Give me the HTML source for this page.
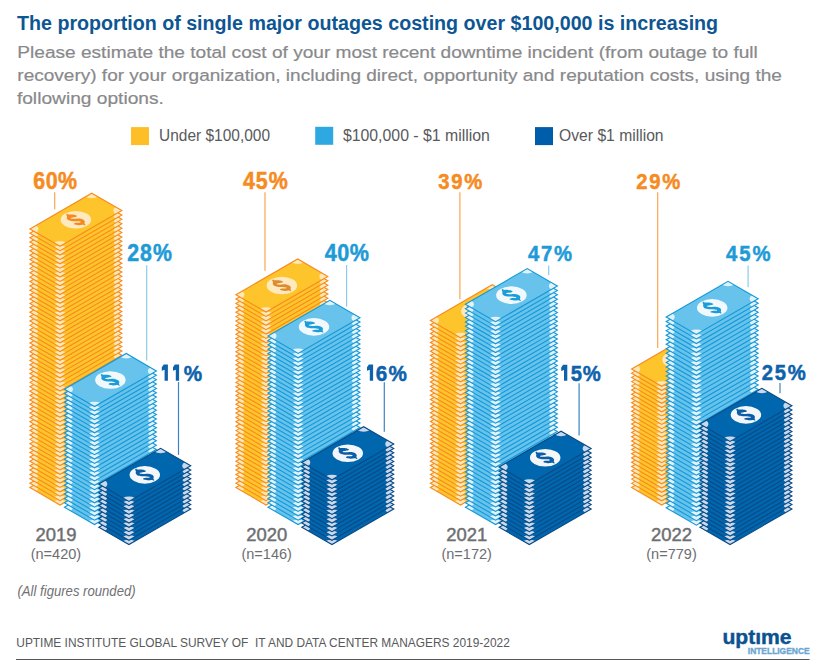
<!DOCTYPE html>
<html><head><meta charset="utf-8"><title>Outage cost chart</title>
<style>html,body{margin:0;padding:0;background:#fff;width:830px;height:668px;overflow:hidden}svg{display:block}text{font-family:"Liberation Sans",sans-serif}</style>
</head><body>
<svg width="830" height="668" viewBox="0 0 830 668"><defs><g id="bO"><rect x="0" y="0" width="71.4" height="34.8" fill="#FEC42C"/><g fill="#FFE8B8"><path d="M0,0 L7.0,0 A7.0,7.0 0 0 1 0,7.0 Z"/><path d="M71.4,0 L71.4,7.0 A7.0,7.0 0 0 1 64.4,0 Z"/><path d="M71.4,34.8 L64.4,34.8 A7.0,7.0 0 0 1 71.4,27.799999999999997 Z"/><path d="M0,34.8 L0,27.799999999999997 A7.0,7.0 0 0 1 7.0,34.8 Z"/></g><rect x="0" y="0" width="71.4" height="34.8" fill="none" stroke="#F88B1D" stroke-width="1.1" vector-effect="non-scaling-stroke" stroke-linejoin="miter"/></g><g id="bL"><rect x="0" y="0" width="71.4" height="34.8" fill="#67C3EC"/><g fill="#E2F2FB"><path d="M0,0 L7.0,0 A7.0,7.0 0 0 1 0,7.0 Z"/><path d="M71.4,0 L71.4,7.0 A7.0,7.0 0 0 1 64.4,0 Z"/><path d="M71.4,34.8 L64.4,34.8 A7.0,7.0 0 0 1 71.4,27.799999999999997 Z"/><path d="M0,34.8 L0,27.799999999999997 A7.0,7.0 0 0 1 7.0,34.8 Z"/></g><rect x="0" y="0" width="71.4" height="34.8" fill="none" stroke="#1398D8" stroke-width="1.1" vector-effect="non-scaling-stroke" stroke-linejoin="miter"/></g><g id="bD"><rect x="0" y="0" width="71.4" height="34.8" fill="#0066AD"/><g fill="#C9DAEC"><path d="M0,0 L7.0,0 A7.0,7.0 0 0 1 0,7.0 Z"/><path d="M71.4,0 L71.4,7.0 A7.0,7.0 0 0 1 64.4,0 Z"/><path d="M71.4,34.8 L64.4,34.8 A7.0,7.0 0 0 1 71.4,27.799999999999997 Z"/><path d="M0,34.8 L0,27.799999999999997 A7.0,7.0 0 0 1 7.0,34.8 Z"/></g><rect x="0" y="0" width="71.4" height="34.8" fill="none" stroke="#0B4A86" stroke-width="1.1" vector-effect="non-scaling-stroke" stroke-linejoin="miter"/></g></defs><rect width="830" height="668" fill="#FFFFFF"/><text x="17" y="29.7" font-family="Liberation Sans" font-weight="bold" font-style="normal" font-size="20" fill="#0D5693" textLength="701.1" lengthAdjust="spacingAndGlyphs" >The proportion of single major outages costing over $100,000 is increasing</text><text x="17.3" y="57.9" font-family="Liberation Sans" font-weight="normal" font-style="normal" font-size="17.4" fill="#88898B" textLength="740.5" lengthAdjust="spacingAndGlyphs" stroke="#88898B" stroke-width="0.2">Please estimate the total cost of your most recent downtime incident (from outage to full</text><text x="17.3" y="80.7" font-family="Liberation Sans" font-weight="normal" font-style="normal" font-size="17.4" fill="#88898B" textLength="764.6" lengthAdjust="spacingAndGlyphs" stroke="#88898B" stroke-width="0.2">recovery) for your organization, including direct, opportunity and reputation costs, using the</text><text x="16.9" y="103.5" font-family="Liberation Sans" font-weight="normal" font-style="normal" font-size="17.4" fill="#88898B" textLength="147.0" lengthAdjust="spacingAndGlyphs" stroke="#88898B" stroke-width="0.2">following options.</text><rect x="131" y="127.1" width="18" height="18" fill="#FDBE27"/><rect x="315.2" y="126.8" width="18" height="18" fill="#2EA8E0"/><rect x="535" y="127.1" width="18" height="18" fill="#005DAA"/><text x="159.1" y="140.8" font-family="Liberation Sans" font-weight="normal" font-style="normal" font-size="16.3" fill="#58595B" textLength="110.9" lengthAdjust="spacingAndGlyphs" >Under $100,000</text><text x="342.9" y="140.8" font-family="Liberation Sans" font-weight="normal" font-style="normal" font-size="16.3" fill="#58595B" textLength="147.0" lengthAdjust="spacingAndGlyphs" >$100,000 - $1 million</text><text x="559.1" y="140.8" font-family="Liberation Sans" font-weight="normal" font-style="normal" font-size="16.3" fill="#58595B" textLength="104.5" lengthAdjust="spacingAndGlyphs" >Over $1 million</text><use href="#bO" transform="matrix(0.8660,-0.5,0.8660,0.5,29.90,487.60)"/><use href="#bO" transform="matrix(0.8660,-0.5,0.8660,0.5,29.90,483.22)"/><use href="#bO" transform="matrix(0.8660,-0.5,0.8660,0.5,29.90,478.83)"/><use href="#bO" transform="matrix(0.8660,-0.5,0.8660,0.5,29.90,474.45)"/><use href="#bO" transform="matrix(0.8660,-0.5,0.8660,0.5,29.90,470.06)"/><use href="#bO" transform="matrix(0.8660,-0.5,0.8660,0.5,29.90,465.68)"/><use href="#bO" transform="matrix(0.8660,-0.5,0.8660,0.5,29.90,461.29)"/><use href="#bO" transform="matrix(0.8660,-0.5,0.8660,0.5,29.90,456.91)"/><use href="#bO" transform="matrix(0.8660,-0.5,0.8660,0.5,29.90,452.52)"/><use href="#bO" transform="matrix(0.8660,-0.5,0.8660,0.5,29.90,448.14)"/><use href="#bO" transform="matrix(0.8660,-0.5,0.8660,0.5,29.90,443.75)"/><use href="#bO" transform="matrix(0.8660,-0.5,0.8660,0.5,29.90,439.37)"/><use href="#bO" transform="matrix(0.8660,-0.5,0.8660,0.5,29.90,434.98)"/><use href="#bO" transform="matrix(0.8660,-0.5,0.8660,0.5,29.90,430.60)"/><use href="#bO" transform="matrix(0.8660,-0.5,0.8660,0.5,29.90,426.21)"/><use href="#bO" transform="matrix(0.8660,-0.5,0.8660,0.5,29.90,421.83)"/><use href="#bO" transform="matrix(0.8660,-0.5,0.8660,0.5,29.90,417.44)"/><use href="#bO" transform="matrix(0.8660,-0.5,0.8660,0.5,29.90,413.06)"/><use href="#bO" transform="matrix(0.8660,-0.5,0.8660,0.5,29.90,408.67)"/><use href="#bO" transform="matrix(0.8660,-0.5,0.8660,0.5,29.90,404.29)"/><use href="#bO" transform="matrix(0.8660,-0.5,0.8660,0.5,29.90,399.91)"/><use href="#bO" transform="matrix(0.8660,-0.5,0.8660,0.5,29.90,395.52)"/><use href="#bO" transform="matrix(0.8660,-0.5,0.8660,0.5,29.90,391.14)"/><use href="#bO" transform="matrix(0.8660,-0.5,0.8660,0.5,29.90,386.75)"/><use href="#bO" transform="matrix(0.8660,-0.5,0.8660,0.5,29.90,382.37)"/><use href="#bO" transform="matrix(0.8660,-0.5,0.8660,0.5,29.90,377.98)"/><use href="#bO" transform="matrix(0.8660,-0.5,0.8660,0.5,29.90,373.60)"/><use href="#bO" transform="matrix(0.8660,-0.5,0.8660,0.5,29.90,369.21)"/><use href="#bO" transform="matrix(0.8660,-0.5,0.8660,0.5,29.90,364.83)"/><use href="#bO" transform="matrix(0.8660,-0.5,0.8660,0.5,29.90,360.44)"/><use href="#bO" transform="matrix(0.8660,-0.5,0.8660,0.5,29.90,356.06)"/><use href="#bO" transform="matrix(0.8660,-0.5,0.8660,0.5,29.90,351.67)"/><use href="#bO" transform="matrix(0.8660,-0.5,0.8660,0.5,29.90,347.29)"/><use href="#bO" transform="matrix(0.8660,-0.5,0.8660,0.5,29.90,342.90)"/><use href="#bO" transform="matrix(0.8660,-0.5,0.8660,0.5,29.90,338.52)"/><use href="#bO" transform="matrix(0.8660,-0.5,0.8660,0.5,29.90,334.13)"/><use href="#bO" transform="matrix(0.8660,-0.5,0.8660,0.5,29.90,329.75)"/><use href="#bO" transform="matrix(0.8660,-0.5,0.8660,0.5,29.90,325.36)"/><use href="#bO" transform="matrix(0.8660,-0.5,0.8660,0.5,29.90,320.98)"/><use href="#bO" transform="matrix(0.8660,-0.5,0.8660,0.5,29.90,316.59)"/><use href="#bO" transform="matrix(0.8660,-0.5,0.8660,0.5,29.90,312.21)"/><use href="#bO" transform="matrix(0.8660,-0.5,0.8660,0.5,29.90,307.83)"/><use href="#bO" transform="matrix(0.8660,-0.5,0.8660,0.5,29.90,303.44)"/><use href="#bO" transform="matrix(0.8660,-0.5,0.8660,0.5,29.90,299.06)"/><use href="#bO" transform="matrix(0.8660,-0.5,0.8660,0.5,29.90,294.67)"/><use href="#bO" transform="matrix(0.8660,-0.5,0.8660,0.5,29.90,290.29)"/><use href="#bO" transform="matrix(0.8660,-0.5,0.8660,0.5,29.90,285.90)"/><use href="#bO" transform="matrix(0.8660,-0.5,0.8660,0.5,29.90,281.52)"/><use href="#bO" transform="matrix(0.8660,-0.5,0.8660,0.5,29.90,277.13)"/><use href="#bO" transform="matrix(0.8660,-0.5,0.8660,0.5,29.90,272.75)"/><use href="#bO" transform="matrix(0.8660,-0.5,0.8660,0.5,29.90,268.36)"/><use href="#bO" transform="matrix(0.8660,-0.5,0.8660,0.5,29.90,263.98)"/><use href="#bO" transform="matrix(0.8660,-0.5,0.8660,0.5,29.90,259.59)"/><use href="#bO" transform="matrix(0.8660,-0.5,0.8660,0.5,29.90,255.21)"/><use href="#bO" transform="matrix(0.8660,-0.5,0.8660,0.5,29.90,250.82)"/><use href="#bO" transform="matrix(0.8660,-0.5,0.8660,0.5,29.90,246.44)"/><use href="#bO" transform="matrix(0.8660,-0.5,0.8660,0.5,29.90,242.05)"/><use href="#bO" transform="matrix(0.8660,-0.5,0.8660,0.5,29.90,237.67)"/><use href="#bO" transform="matrix(0.8660,-0.5,0.8660,0.5,29.90,233.28)"/><use href="#bO" transform="matrix(0.8660,-0.5,0.8660,0.5,29.90,228.90)"/><g transform="matrix(0.8660,-0.5,0.8660,0.5,29.90,228.90)"><circle cx="35.7" cy="17.4" r="12.45" fill="#FFE9BE"/></g><path transform="translate(76.05,219.80)" fill="#F5881F" stroke="#F5881F" stroke-width="0.0" stroke-linejoin="round" d="M-9.86,-5.32 C-9.79,-5.45 -8.94,-6.11 -8.76,-6.11 C-8.58,-6.11 -8.08,-5.39 -7.66,-5.32 C-7.25,-5.26 -4.31,-5.36 -3.75,-5.32 C-3.18,-5.28 -1.30,-4.96 -0.92,-4.85 C-0.55,-4.75 0.66,-4.20 0.80,-4.07 C0.94,-3.94 0.93,-3.39 0.80,-3.29 C0.67,-3.18 -0.39,-2.89 -0.77,-2.82 C-1.15,-2.74 -3.38,-2.41 -3.75,-2.34 C-4.11,-2.28 -5.03,-2.10 -5.16,-2.03 C-5.29,-1.97 -5.37,-1.64 -5.31,-1.56 C-5.26,-1.48 -4.82,-1.14 -4.53,-1.09 C-4.24,-1.04 -2.40,-0.92 -1.87,-0.93 C-1.33,-0.95 1.32,-1.25 1.90,-1.25 C2.47,-1.25 4.56,-1.05 5.03,-0.93 C5.50,-0.82 7.23,-0.06 7.54,0.16 C7.85,0.39 8.71,1.44 8.79,1.73 C8.87,2.02 8.48,3.38 8.48,3.61 C8.48,3.85 8.70,4.42 8.79,4.55 C8.88,4.68 9.60,5.09 9.58,5.18 C9.55,5.27 8.70,5.66 8.48,5.65 C8.26,5.64 7.36,5.05 6.91,5.02 C6.47,5.00 3.73,5.35 3.15,5.34 C2.58,5.32 0.43,4.94 0.02,4.87 C-0.40,4.79 -1.71,4.50 -1.87,4.39 C-2.02,4.29 -2.02,3.73 -1.87,3.61 C-1.71,3.49 -0.43,3.05 0.02,2.98 C0.46,2.92 3.07,2.87 3.46,2.83 C3.86,2.79 4.64,2.59 4.72,2.51 C4.80,2.44 4.64,1.97 4.40,1.89 C4.17,1.81 2.50,1.61 1.90,1.57 C1.30,1.53 -2.15,1.47 -2.81,1.42 C-3.46,1.36 -5.50,1.06 -5.94,0.95 C-6.38,0.83 -7.86,0.22 -8.13,0.01 C-8.41,-0.20 -9.15,-1.26 -9.23,-1.56 C-9.31,-1.86 -9.05,-3.35 -9.08,-3.60 C-9.10,-3.85 -9.48,-4.40 -9.55,-4.54 C-9.61,-4.68 -9.92,-5.19 -9.86,-5.32Z"/><use href="#bL" transform="matrix(0.8660,-0.5,0.8660,0.5,64.40,507.20)"/><use href="#bL" transform="matrix(0.8660,-0.5,0.8660,0.5,64.40,502.83)"/><use href="#bL" transform="matrix(0.8660,-0.5,0.8660,0.5,64.40,498.46)"/><use href="#bL" transform="matrix(0.8660,-0.5,0.8660,0.5,64.40,494.09)"/><use href="#bL" transform="matrix(0.8660,-0.5,0.8660,0.5,64.40,489.72)"/><use href="#bL" transform="matrix(0.8660,-0.5,0.8660,0.5,64.40,485.35)"/><use href="#bL" transform="matrix(0.8660,-0.5,0.8660,0.5,64.40,480.98)"/><use href="#bL" transform="matrix(0.8660,-0.5,0.8660,0.5,64.40,476.61)"/><use href="#bL" transform="matrix(0.8660,-0.5,0.8660,0.5,64.40,472.24)"/><use href="#bL" transform="matrix(0.8660,-0.5,0.8660,0.5,64.40,467.87)"/><use href="#bL" transform="matrix(0.8660,-0.5,0.8660,0.5,64.40,463.50)"/><use href="#bL" transform="matrix(0.8660,-0.5,0.8660,0.5,64.40,459.13)"/><use href="#bL" transform="matrix(0.8660,-0.5,0.8660,0.5,64.40,454.76)"/><use href="#bL" transform="matrix(0.8660,-0.5,0.8660,0.5,64.40,450.39)"/><use href="#bL" transform="matrix(0.8660,-0.5,0.8660,0.5,64.40,446.01)"/><use href="#bL" transform="matrix(0.8660,-0.5,0.8660,0.5,64.40,441.64)"/><use href="#bL" transform="matrix(0.8660,-0.5,0.8660,0.5,64.40,437.27)"/><use href="#bL" transform="matrix(0.8660,-0.5,0.8660,0.5,64.40,432.90)"/><use href="#bL" transform="matrix(0.8660,-0.5,0.8660,0.5,64.40,428.53)"/><use href="#bL" transform="matrix(0.8660,-0.5,0.8660,0.5,64.40,424.16)"/><use href="#bL" transform="matrix(0.8660,-0.5,0.8660,0.5,64.40,419.79)"/><use href="#bL" transform="matrix(0.8660,-0.5,0.8660,0.5,64.40,415.42)"/><use href="#bL" transform="matrix(0.8660,-0.5,0.8660,0.5,64.40,411.05)"/><use href="#bL" transform="matrix(0.8660,-0.5,0.8660,0.5,64.40,406.68)"/><use href="#bL" transform="matrix(0.8660,-0.5,0.8660,0.5,64.40,402.31)"/><use href="#bL" transform="matrix(0.8660,-0.5,0.8660,0.5,64.40,397.94)"/><use href="#bL" transform="matrix(0.8660,-0.5,0.8660,0.5,64.40,393.57)"/><use href="#bL" transform="matrix(0.8660,-0.5,0.8660,0.5,64.40,389.20)"/><g transform="matrix(0.8660,-0.5,0.8660,0.5,64.40,389.20)"><circle cx="35.7" cy="17.4" r="12.45" fill="#F2F9FD"/></g><path transform="translate(110.55,380.10)" fill="#1B9DD9" stroke="#1B9DD9" stroke-width="0.0" stroke-linejoin="round" d="M-9.86,-5.32 C-9.79,-5.45 -8.94,-6.11 -8.76,-6.11 C-8.58,-6.11 -8.08,-5.39 -7.66,-5.32 C-7.25,-5.26 -4.31,-5.36 -3.75,-5.32 C-3.18,-5.28 -1.30,-4.96 -0.92,-4.85 C-0.55,-4.75 0.66,-4.20 0.80,-4.07 C0.94,-3.94 0.93,-3.39 0.80,-3.29 C0.67,-3.18 -0.39,-2.89 -0.77,-2.82 C-1.15,-2.74 -3.38,-2.41 -3.75,-2.34 C-4.11,-2.28 -5.03,-2.10 -5.16,-2.03 C-5.29,-1.97 -5.37,-1.64 -5.31,-1.56 C-5.26,-1.48 -4.82,-1.14 -4.53,-1.09 C-4.24,-1.04 -2.40,-0.92 -1.87,-0.93 C-1.33,-0.95 1.32,-1.25 1.90,-1.25 C2.47,-1.25 4.56,-1.05 5.03,-0.93 C5.50,-0.82 7.23,-0.06 7.54,0.16 C7.85,0.39 8.71,1.44 8.79,1.73 C8.87,2.02 8.48,3.38 8.48,3.61 C8.48,3.85 8.70,4.42 8.79,4.55 C8.88,4.68 9.60,5.09 9.58,5.18 C9.55,5.27 8.70,5.66 8.48,5.65 C8.26,5.64 7.36,5.05 6.91,5.02 C6.47,5.00 3.73,5.35 3.15,5.34 C2.58,5.32 0.43,4.94 0.02,4.87 C-0.40,4.79 -1.71,4.50 -1.87,4.39 C-2.02,4.29 -2.02,3.73 -1.87,3.61 C-1.71,3.49 -0.43,3.05 0.02,2.98 C0.46,2.92 3.07,2.87 3.46,2.83 C3.86,2.79 4.64,2.59 4.72,2.51 C4.80,2.44 4.64,1.97 4.40,1.89 C4.17,1.81 2.50,1.61 1.90,1.57 C1.30,1.53 -2.15,1.47 -2.81,1.42 C-3.46,1.36 -5.50,1.06 -5.94,0.95 C-6.38,0.83 -7.86,0.22 -8.13,0.01 C-8.41,-0.20 -9.15,-1.26 -9.23,-1.56 C-9.31,-1.86 -9.05,-3.35 -9.08,-3.60 C-9.10,-3.85 -9.48,-4.40 -9.55,-4.54 C-9.61,-4.68 -9.92,-5.19 -9.86,-5.32Z"/><use href="#bD" transform="matrix(0.8660,-0.5,0.8660,0.5,98.80,527.20)"/><use href="#bD" transform="matrix(0.8660,-0.5,0.8660,0.5,98.80,522.88)"/><use href="#bD" transform="matrix(0.8660,-0.5,0.8660,0.5,98.80,518.56)"/><use href="#bD" transform="matrix(0.8660,-0.5,0.8660,0.5,98.80,514.24)"/><use href="#bD" transform="matrix(0.8660,-0.5,0.8660,0.5,98.80,509.92)"/><use href="#bD" transform="matrix(0.8660,-0.5,0.8660,0.5,98.80,505.60)"/><use href="#bD" transform="matrix(0.8660,-0.5,0.8660,0.5,98.80,501.28)"/><use href="#bD" transform="matrix(0.8660,-0.5,0.8660,0.5,98.80,496.96)"/><use href="#bD" transform="matrix(0.8660,-0.5,0.8660,0.5,98.80,492.64)"/><use href="#bD" transform="matrix(0.8660,-0.5,0.8660,0.5,98.80,488.32)"/><use href="#bD" transform="matrix(0.8660,-0.5,0.8660,0.5,98.80,484.00)"/><g transform="matrix(0.8660,-0.5,0.8660,0.5,98.80,484.00)"><circle cx="35.7" cy="17.4" r="12.45" fill="#F3F6FA"/></g><path transform="translate(144.95,474.90)" fill="#0B5EA6" stroke="#0B5EA6" stroke-width="0.0" stroke-linejoin="round" d="M-9.86,-5.32 C-9.79,-5.45 -8.94,-6.11 -8.76,-6.11 C-8.58,-6.11 -8.08,-5.39 -7.66,-5.32 C-7.25,-5.26 -4.31,-5.36 -3.75,-5.32 C-3.18,-5.28 -1.30,-4.96 -0.92,-4.85 C-0.55,-4.75 0.66,-4.20 0.80,-4.07 C0.94,-3.94 0.93,-3.39 0.80,-3.29 C0.67,-3.18 -0.39,-2.89 -0.77,-2.82 C-1.15,-2.74 -3.38,-2.41 -3.75,-2.34 C-4.11,-2.28 -5.03,-2.10 -5.16,-2.03 C-5.29,-1.97 -5.37,-1.64 -5.31,-1.56 C-5.26,-1.48 -4.82,-1.14 -4.53,-1.09 C-4.24,-1.04 -2.40,-0.92 -1.87,-0.93 C-1.33,-0.95 1.32,-1.25 1.90,-1.25 C2.47,-1.25 4.56,-1.05 5.03,-0.93 C5.50,-0.82 7.23,-0.06 7.54,0.16 C7.85,0.39 8.71,1.44 8.79,1.73 C8.87,2.02 8.48,3.38 8.48,3.61 C8.48,3.85 8.70,4.42 8.79,4.55 C8.88,4.68 9.60,5.09 9.58,5.18 C9.55,5.27 8.70,5.66 8.48,5.65 C8.26,5.64 7.36,5.05 6.91,5.02 C6.47,5.00 3.73,5.35 3.15,5.34 C2.58,5.32 0.43,4.94 0.02,4.87 C-0.40,4.79 -1.71,4.50 -1.87,4.39 C-2.02,4.29 -2.02,3.73 -1.87,3.61 C-1.71,3.49 -0.43,3.05 0.02,2.98 C0.46,2.92 3.07,2.87 3.46,2.83 C3.86,2.79 4.64,2.59 4.72,2.51 C4.80,2.44 4.64,1.97 4.40,1.89 C4.17,1.81 2.50,1.61 1.90,1.57 C1.30,1.53 -2.15,1.47 -2.81,1.42 C-3.46,1.36 -5.50,1.06 -5.94,0.95 C-6.38,0.83 -7.86,0.22 -8.13,0.01 C-8.41,-0.20 -9.15,-1.26 -9.23,-1.56 C-9.31,-1.86 -9.05,-3.35 -9.08,-3.60 C-9.10,-3.85 -9.48,-4.40 -9.55,-4.54 C-9.61,-4.68 -9.92,-5.19 -9.86,-5.32Z"/><use href="#bO" transform="matrix(0.8660,-0.5,0.8660,0.5,235.90,487.60)"/><use href="#bO" transform="matrix(0.8660,-0.5,0.8660,0.5,235.90,483.22)"/><use href="#bO" transform="matrix(0.8660,-0.5,0.8660,0.5,235.90,478.83)"/><use href="#bO" transform="matrix(0.8660,-0.5,0.8660,0.5,235.90,474.45)"/><use href="#bO" transform="matrix(0.8660,-0.5,0.8660,0.5,235.90,470.06)"/><use href="#bO" transform="matrix(0.8660,-0.5,0.8660,0.5,235.90,465.68)"/><use href="#bO" transform="matrix(0.8660,-0.5,0.8660,0.5,235.90,461.30)"/><use href="#bO" transform="matrix(0.8660,-0.5,0.8660,0.5,235.90,456.91)"/><use href="#bO" transform="matrix(0.8660,-0.5,0.8660,0.5,235.90,452.53)"/><use href="#bO" transform="matrix(0.8660,-0.5,0.8660,0.5,235.90,448.14)"/><use href="#bO" transform="matrix(0.8660,-0.5,0.8660,0.5,235.90,443.76)"/><use href="#bO" transform="matrix(0.8660,-0.5,0.8660,0.5,235.90,439.38)"/><use href="#bO" transform="matrix(0.8660,-0.5,0.8660,0.5,235.90,434.99)"/><use href="#bO" transform="matrix(0.8660,-0.5,0.8660,0.5,235.90,430.61)"/><use href="#bO" transform="matrix(0.8660,-0.5,0.8660,0.5,235.90,426.22)"/><use href="#bO" transform="matrix(0.8660,-0.5,0.8660,0.5,235.90,421.84)"/><use href="#bO" transform="matrix(0.8660,-0.5,0.8660,0.5,235.90,417.45)"/><use href="#bO" transform="matrix(0.8660,-0.5,0.8660,0.5,235.90,413.07)"/><use href="#bO" transform="matrix(0.8660,-0.5,0.8660,0.5,235.90,408.69)"/><use href="#bO" transform="matrix(0.8660,-0.5,0.8660,0.5,235.90,404.30)"/><use href="#bO" transform="matrix(0.8660,-0.5,0.8660,0.5,235.90,399.92)"/><use href="#bO" transform="matrix(0.8660,-0.5,0.8660,0.5,235.90,395.53)"/><use href="#bO" transform="matrix(0.8660,-0.5,0.8660,0.5,235.90,391.15)"/><use href="#bO" transform="matrix(0.8660,-0.5,0.8660,0.5,235.90,386.77)"/><use href="#bO" transform="matrix(0.8660,-0.5,0.8660,0.5,235.90,382.38)"/><use href="#bO" transform="matrix(0.8660,-0.5,0.8660,0.5,235.90,378.00)"/><use href="#bO" transform="matrix(0.8660,-0.5,0.8660,0.5,235.90,373.61)"/><use href="#bO" transform="matrix(0.8660,-0.5,0.8660,0.5,235.90,369.23)"/><use href="#bO" transform="matrix(0.8660,-0.5,0.8660,0.5,235.90,364.85)"/><use href="#bO" transform="matrix(0.8660,-0.5,0.8660,0.5,235.90,360.46)"/><use href="#bO" transform="matrix(0.8660,-0.5,0.8660,0.5,235.90,356.08)"/><use href="#bO" transform="matrix(0.8660,-0.5,0.8660,0.5,235.90,351.69)"/><use href="#bO" transform="matrix(0.8660,-0.5,0.8660,0.5,235.90,347.31)"/><use href="#bO" transform="matrix(0.8660,-0.5,0.8660,0.5,235.90,342.93)"/><use href="#bO" transform="matrix(0.8660,-0.5,0.8660,0.5,235.90,338.54)"/><use href="#bO" transform="matrix(0.8660,-0.5,0.8660,0.5,235.90,334.16)"/><use href="#bO" transform="matrix(0.8660,-0.5,0.8660,0.5,235.90,329.77)"/><use href="#bO" transform="matrix(0.8660,-0.5,0.8660,0.5,235.90,325.39)"/><use href="#bO" transform="matrix(0.8660,-0.5,0.8660,0.5,235.90,321.00)"/><use href="#bO" transform="matrix(0.8660,-0.5,0.8660,0.5,235.90,316.62)"/><use href="#bO" transform="matrix(0.8660,-0.5,0.8660,0.5,235.90,312.24)"/><use href="#bO" transform="matrix(0.8660,-0.5,0.8660,0.5,235.90,307.85)"/><use href="#bO" transform="matrix(0.8660,-0.5,0.8660,0.5,235.90,303.47)"/><use href="#bO" transform="matrix(0.8660,-0.5,0.8660,0.5,235.90,299.08)"/><use href="#bO" transform="matrix(0.8660,-0.5,0.8660,0.5,235.90,294.70)"/><g transform="matrix(0.8660,-0.5,0.8660,0.5,235.90,294.70)"><circle cx="35.7" cy="17.4" r="12.45" fill="#FFE9BE"/></g><path transform="translate(282.05,285.60)" fill="#DE8B2E" stroke="#DE8B2E" stroke-width="0.0" stroke-linejoin="round" d="M-9.86,-5.32 C-9.79,-5.45 -8.94,-6.11 -8.76,-6.11 C-8.58,-6.11 -8.08,-5.39 -7.66,-5.32 C-7.25,-5.26 -4.31,-5.36 -3.75,-5.32 C-3.18,-5.28 -1.30,-4.96 -0.92,-4.85 C-0.55,-4.75 0.66,-4.20 0.80,-4.07 C0.94,-3.94 0.93,-3.39 0.80,-3.29 C0.67,-3.18 -0.39,-2.89 -0.77,-2.82 C-1.15,-2.74 -3.38,-2.41 -3.75,-2.34 C-4.11,-2.28 -5.03,-2.10 -5.16,-2.03 C-5.29,-1.97 -5.37,-1.64 -5.31,-1.56 C-5.26,-1.48 -4.82,-1.14 -4.53,-1.09 C-4.24,-1.04 -2.40,-0.92 -1.87,-0.93 C-1.33,-0.95 1.32,-1.25 1.90,-1.25 C2.47,-1.25 4.56,-1.05 5.03,-0.93 C5.50,-0.82 7.23,-0.06 7.54,0.16 C7.85,0.39 8.71,1.44 8.79,1.73 C8.87,2.02 8.48,3.38 8.48,3.61 C8.48,3.85 8.70,4.42 8.79,4.55 C8.88,4.68 9.60,5.09 9.58,5.18 C9.55,5.27 8.70,5.66 8.48,5.65 C8.26,5.64 7.36,5.05 6.91,5.02 C6.47,5.00 3.73,5.35 3.15,5.34 C2.58,5.32 0.43,4.94 0.02,4.87 C-0.40,4.79 -1.71,4.50 -1.87,4.39 C-2.02,4.29 -2.02,3.73 -1.87,3.61 C-1.71,3.49 -0.43,3.05 0.02,2.98 C0.46,2.92 3.07,2.87 3.46,2.83 C3.86,2.79 4.64,2.59 4.72,2.51 C4.80,2.44 4.64,1.97 4.40,1.89 C4.17,1.81 2.50,1.61 1.90,1.57 C1.30,1.53 -2.15,1.47 -2.81,1.42 C-3.46,1.36 -5.50,1.06 -5.94,0.95 C-6.38,0.83 -7.86,0.22 -8.13,0.01 C-8.41,-0.20 -9.15,-1.26 -9.23,-1.56 C-9.31,-1.86 -9.05,-3.35 -9.08,-3.60 C-9.10,-3.85 -9.48,-4.40 -9.55,-4.54 C-9.61,-4.68 -9.92,-5.19 -9.86,-5.32Z"/><use href="#bL" transform="matrix(0.8660,-0.5,0.8660,0.5,268.00,507.20)"/><use href="#bL" transform="matrix(0.8660,-0.5,0.8660,0.5,268.00,502.81)"/><use href="#bL" transform="matrix(0.8660,-0.5,0.8660,0.5,268.00,498.42)"/><use href="#bL" transform="matrix(0.8660,-0.5,0.8660,0.5,268.00,494.03)"/><use href="#bL" transform="matrix(0.8660,-0.5,0.8660,0.5,268.00,489.64)"/><use href="#bL" transform="matrix(0.8660,-0.5,0.8660,0.5,268.00,485.25)"/><use href="#bL" transform="matrix(0.8660,-0.5,0.8660,0.5,268.00,480.86)"/><use href="#bL" transform="matrix(0.8660,-0.5,0.8660,0.5,268.00,476.47)"/><use href="#bL" transform="matrix(0.8660,-0.5,0.8660,0.5,268.00,472.08)"/><use href="#bL" transform="matrix(0.8660,-0.5,0.8660,0.5,268.00,467.69)"/><use href="#bL" transform="matrix(0.8660,-0.5,0.8660,0.5,268.00,463.30)"/><use href="#bL" transform="matrix(0.8660,-0.5,0.8660,0.5,268.00,458.91)"/><use href="#bL" transform="matrix(0.8660,-0.5,0.8660,0.5,268.00,454.52)"/><use href="#bL" transform="matrix(0.8660,-0.5,0.8660,0.5,268.00,450.13)"/><use href="#bL" transform="matrix(0.8660,-0.5,0.8660,0.5,268.00,445.74)"/><use href="#bL" transform="matrix(0.8660,-0.5,0.8660,0.5,268.00,441.35)"/><use href="#bL" transform="matrix(0.8660,-0.5,0.8660,0.5,268.00,436.96)"/><use href="#bL" transform="matrix(0.8660,-0.5,0.8660,0.5,268.00,432.57)"/><use href="#bL" transform="matrix(0.8660,-0.5,0.8660,0.5,268.00,428.18)"/><use href="#bL" transform="matrix(0.8660,-0.5,0.8660,0.5,268.00,423.79)"/><use href="#bL" transform="matrix(0.8660,-0.5,0.8660,0.5,268.00,419.41)"/><use href="#bL" transform="matrix(0.8660,-0.5,0.8660,0.5,268.00,415.02)"/><use href="#bL" transform="matrix(0.8660,-0.5,0.8660,0.5,268.00,410.63)"/><use href="#bL" transform="matrix(0.8660,-0.5,0.8660,0.5,268.00,406.24)"/><use href="#bL" transform="matrix(0.8660,-0.5,0.8660,0.5,268.00,401.85)"/><use href="#bL" transform="matrix(0.8660,-0.5,0.8660,0.5,268.00,397.46)"/><use href="#bL" transform="matrix(0.8660,-0.5,0.8660,0.5,268.00,393.07)"/><use href="#bL" transform="matrix(0.8660,-0.5,0.8660,0.5,268.00,388.68)"/><use href="#bL" transform="matrix(0.8660,-0.5,0.8660,0.5,268.00,384.29)"/><use href="#bL" transform="matrix(0.8660,-0.5,0.8660,0.5,268.00,379.90)"/><use href="#bL" transform="matrix(0.8660,-0.5,0.8660,0.5,268.00,375.51)"/><use href="#bL" transform="matrix(0.8660,-0.5,0.8660,0.5,268.00,371.12)"/><use href="#bL" transform="matrix(0.8660,-0.5,0.8660,0.5,268.00,366.73)"/><use href="#bL" transform="matrix(0.8660,-0.5,0.8660,0.5,268.00,362.34)"/><use href="#bL" transform="matrix(0.8660,-0.5,0.8660,0.5,268.00,357.95)"/><use href="#bL" transform="matrix(0.8660,-0.5,0.8660,0.5,268.00,353.56)"/><use href="#bL" transform="matrix(0.8660,-0.5,0.8660,0.5,268.00,349.17)"/><use href="#bL" transform="matrix(0.8660,-0.5,0.8660,0.5,268.00,344.78)"/><use href="#bL" transform="matrix(0.8660,-0.5,0.8660,0.5,268.00,340.39)"/><use href="#bL" transform="matrix(0.8660,-0.5,0.8660,0.5,268.00,336.00)"/><g transform="matrix(0.8660,-0.5,0.8660,0.5,268.00,336.00)"><circle cx="35.7" cy="17.4" r="12.45" fill="#F2F9FD"/></g><path transform="translate(314.15,326.90)" fill="#1B9DD9" stroke="#1B9DD9" stroke-width="0.0" stroke-linejoin="round" d="M-9.86,-5.32 C-9.79,-5.45 -8.94,-6.11 -8.76,-6.11 C-8.58,-6.11 -8.08,-5.39 -7.66,-5.32 C-7.25,-5.26 -4.31,-5.36 -3.75,-5.32 C-3.18,-5.28 -1.30,-4.96 -0.92,-4.85 C-0.55,-4.75 0.66,-4.20 0.80,-4.07 C0.94,-3.94 0.93,-3.39 0.80,-3.29 C0.67,-3.18 -0.39,-2.89 -0.77,-2.82 C-1.15,-2.74 -3.38,-2.41 -3.75,-2.34 C-4.11,-2.28 -5.03,-2.10 -5.16,-2.03 C-5.29,-1.97 -5.37,-1.64 -5.31,-1.56 C-5.26,-1.48 -4.82,-1.14 -4.53,-1.09 C-4.24,-1.04 -2.40,-0.92 -1.87,-0.93 C-1.33,-0.95 1.32,-1.25 1.90,-1.25 C2.47,-1.25 4.56,-1.05 5.03,-0.93 C5.50,-0.82 7.23,-0.06 7.54,0.16 C7.85,0.39 8.71,1.44 8.79,1.73 C8.87,2.02 8.48,3.38 8.48,3.61 C8.48,3.85 8.70,4.42 8.79,4.55 C8.88,4.68 9.60,5.09 9.58,5.18 C9.55,5.27 8.70,5.66 8.48,5.65 C8.26,5.64 7.36,5.05 6.91,5.02 C6.47,5.00 3.73,5.35 3.15,5.34 C2.58,5.32 0.43,4.94 0.02,4.87 C-0.40,4.79 -1.71,4.50 -1.87,4.39 C-2.02,4.29 -2.02,3.73 -1.87,3.61 C-1.71,3.49 -0.43,3.05 0.02,2.98 C0.46,2.92 3.07,2.87 3.46,2.83 C3.86,2.79 4.64,2.59 4.72,2.51 C4.80,2.44 4.64,1.97 4.40,1.89 C4.17,1.81 2.50,1.61 1.90,1.57 C1.30,1.53 -2.15,1.47 -2.81,1.42 C-3.46,1.36 -5.50,1.06 -5.94,0.95 C-6.38,0.83 -7.86,0.22 -8.13,0.01 C-8.41,-0.20 -9.15,-1.26 -9.23,-1.56 C-9.31,-1.86 -9.05,-3.35 -9.08,-3.60 C-9.10,-3.85 -9.48,-4.40 -9.55,-4.54 C-9.61,-4.68 -9.92,-5.19 -9.86,-5.32Z"/><use href="#bD" transform="matrix(0.8660,-0.5,0.8660,0.5,301.80,527.20)"/><use href="#bD" transform="matrix(0.8660,-0.5,0.8660,0.5,301.80,522.88)"/><use href="#bD" transform="matrix(0.8660,-0.5,0.8660,0.5,301.80,518.56)"/><use href="#bD" transform="matrix(0.8660,-0.5,0.8660,0.5,301.80,514.24)"/><use href="#bD" transform="matrix(0.8660,-0.5,0.8660,0.5,301.80,509.92)"/><use href="#bD" transform="matrix(0.8660,-0.5,0.8660,0.5,301.80,505.60)"/><use href="#bD" transform="matrix(0.8660,-0.5,0.8660,0.5,301.80,501.28)"/><use href="#bD" transform="matrix(0.8660,-0.5,0.8660,0.5,301.80,496.96)"/><use href="#bD" transform="matrix(0.8660,-0.5,0.8660,0.5,301.80,492.64)"/><use href="#bD" transform="matrix(0.8660,-0.5,0.8660,0.5,301.80,488.32)"/><use href="#bD" transform="matrix(0.8660,-0.5,0.8660,0.5,301.80,484.00)"/><use href="#bD" transform="matrix(0.8660,-0.5,0.8660,0.5,301.80,479.68)"/><use href="#bD" transform="matrix(0.8660,-0.5,0.8660,0.5,301.80,475.36)"/><use href="#bD" transform="matrix(0.8660,-0.5,0.8660,0.5,301.80,471.04)"/><use href="#bD" transform="matrix(0.8660,-0.5,0.8660,0.5,301.80,466.72)"/><use href="#bD" transform="matrix(0.8660,-0.5,0.8660,0.5,301.80,462.40)"/><g transform="matrix(0.8660,-0.5,0.8660,0.5,301.80,462.40)"><circle cx="35.7" cy="17.4" r="12.45" fill="#F3F6FA"/></g><path transform="translate(347.95,453.30)" fill="#0B5EA6" stroke="#0B5EA6" stroke-width="0.0" stroke-linejoin="round" d="M-9.86,-5.32 C-9.79,-5.45 -8.94,-6.11 -8.76,-6.11 C-8.58,-6.11 -8.08,-5.39 -7.66,-5.32 C-7.25,-5.26 -4.31,-5.36 -3.75,-5.32 C-3.18,-5.28 -1.30,-4.96 -0.92,-4.85 C-0.55,-4.75 0.66,-4.20 0.80,-4.07 C0.94,-3.94 0.93,-3.39 0.80,-3.29 C0.67,-3.18 -0.39,-2.89 -0.77,-2.82 C-1.15,-2.74 -3.38,-2.41 -3.75,-2.34 C-4.11,-2.28 -5.03,-2.10 -5.16,-2.03 C-5.29,-1.97 -5.37,-1.64 -5.31,-1.56 C-5.26,-1.48 -4.82,-1.14 -4.53,-1.09 C-4.24,-1.04 -2.40,-0.92 -1.87,-0.93 C-1.33,-0.95 1.32,-1.25 1.90,-1.25 C2.47,-1.25 4.56,-1.05 5.03,-0.93 C5.50,-0.82 7.23,-0.06 7.54,0.16 C7.85,0.39 8.71,1.44 8.79,1.73 C8.87,2.02 8.48,3.38 8.48,3.61 C8.48,3.85 8.70,4.42 8.79,4.55 C8.88,4.68 9.60,5.09 9.58,5.18 C9.55,5.27 8.70,5.66 8.48,5.65 C8.26,5.64 7.36,5.05 6.91,5.02 C6.47,5.00 3.73,5.35 3.15,5.34 C2.58,5.32 0.43,4.94 0.02,4.87 C-0.40,4.79 -1.71,4.50 -1.87,4.39 C-2.02,4.29 -2.02,3.73 -1.87,3.61 C-1.71,3.49 -0.43,3.05 0.02,2.98 C0.46,2.92 3.07,2.87 3.46,2.83 C3.86,2.79 4.64,2.59 4.72,2.51 C4.80,2.44 4.64,1.97 4.40,1.89 C4.17,1.81 2.50,1.61 1.90,1.57 C1.30,1.53 -2.15,1.47 -2.81,1.42 C-3.46,1.36 -5.50,1.06 -5.94,0.95 C-6.38,0.83 -7.86,0.22 -8.13,0.01 C-8.41,-0.20 -9.15,-1.26 -9.23,-1.56 C-9.31,-1.86 -9.05,-3.35 -9.08,-3.60 C-9.10,-3.85 -9.48,-4.40 -9.55,-4.54 C-9.61,-4.68 -9.92,-5.19 -9.86,-5.32Z"/><use href="#bO" transform="matrix(0.8660,-0.5,0.8660,0.5,430.40,487.60)"/><use href="#bO" transform="matrix(0.8660,-0.5,0.8660,0.5,430.40,483.20)"/><use href="#bO" transform="matrix(0.8660,-0.5,0.8660,0.5,430.40,478.80)"/><use href="#bO" transform="matrix(0.8660,-0.5,0.8660,0.5,430.40,474.40)"/><use href="#bO" transform="matrix(0.8660,-0.5,0.8660,0.5,430.40,470.00)"/><use href="#bO" transform="matrix(0.8660,-0.5,0.8660,0.5,430.40,465.60)"/><use href="#bO" transform="matrix(0.8660,-0.5,0.8660,0.5,430.40,461.20)"/><use href="#bO" transform="matrix(0.8660,-0.5,0.8660,0.5,430.40,456.80)"/><use href="#bO" transform="matrix(0.8660,-0.5,0.8660,0.5,430.40,452.40)"/><use href="#bO" transform="matrix(0.8660,-0.5,0.8660,0.5,430.40,448.00)"/><use href="#bO" transform="matrix(0.8660,-0.5,0.8660,0.5,430.40,443.60)"/><use href="#bO" transform="matrix(0.8660,-0.5,0.8660,0.5,430.40,439.20)"/><use href="#bO" transform="matrix(0.8660,-0.5,0.8660,0.5,430.40,434.80)"/><use href="#bO" transform="matrix(0.8660,-0.5,0.8660,0.5,430.40,430.40)"/><use href="#bO" transform="matrix(0.8660,-0.5,0.8660,0.5,430.40,426.00)"/><use href="#bO" transform="matrix(0.8660,-0.5,0.8660,0.5,430.40,421.60)"/><use href="#bO" transform="matrix(0.8660,-0.5,0.8660,0.5,430.40,417.20)"/><use href="#bO" transform="matrix(0.8660,-0.5,0.8660,0.5,430.40,412.80)"/><use href="#bO" transform="matrix(0.8660,-0.5,0.8660,0.5,430.40,408.40)"/><use href="#bO" transform="matrix(0.8660,-0.5,0.8660,0.5,430.40,404.00)"/><use href="#bO" transform="matrix(0.8660,-0.5,0.8660,0.5,430.40,399.60)"/><use href="#bO" transform="matrix(0.8660,-0.5,0.8660,0.5,430.40,395.20)"/><use href="#bO" transform="matrix(0.8660,-0.5,0.8660,0.5,430.40,390.80)"/><use href="#bO" transform="matrix(0.8660,-0.5,0.8660,0.5,430.40,386.40)"/><use href="#bO" transform="matrix(0.8660,-0.5,0.8660,0.5,430.40,382.00)"/><use href="#bO" transform="matrix(0.8660,-0.5,0.8660,0.5,430.40,377.60)"/><use href="#bO" transform="matrix(0.8660,-0.5,0.8660,0.5,430.40,373.20)"/><use href="#bO" transform="matrix(0.8660,-0.5,0.8660,0.5,430.40,368.80)"/><use href="#bO" transform="matrix(0.8660,-0.5,0.8660,0.5,430.40,364.40)"/><use href="#bO" transform="matrix(0.8660,-0.5,0.8660,0.5,430.40,360.00)"/><use href="#bO" transform="matrix(0.8660,-0.5,0.8660,0.5,430.40,355.60)"/><use href="#bO" transform="matrix(0.8660,-0.5,0.8660,0.5,430.40,351.20)"/><use href="#bO" transform="matrix(0.8660,-0.5,0.8660,0.5,430.40,346.80)"/><use href="#bO" transform="matrix(0.8660,-0.5,0.8660,0.5,430.40,342.40)"/><use href="#bO" transform="matrix(0.8660,-0.5,0.8660,0.5,430.40,338.00)"/><use href="#bO" transform="matrix(0.8660,-0.5,0.8660,0.5,430.40,333.60)"/><use href="#bO" transform="matrix(0.8660,-0.5,0.8660,0.5,430.40,329.20)"/><use href="#bO" transform="matrix(0.8660,-0.5,0.8660,0.5,430.40,324.80)"/><use href="#bO" transform="matrix(0.8660,-0.5,0.8660,0.5,430.40,320.40)"/><g transform="matrix(0.8660,-0.5,0.8660,0.5,430.40,320.40)"><circle cx="35.7" cy="17.4" r="12.45" fill="#FFE9BE"/></g><path transform="translate(476.55,311.30)" fill="#F5881F" stroke="#F5881F" stroke-width="0.0" stroke-linejoin="round" d="M-9.86,-5.32 C-9.79,-5.45 -8.94,-6.11 -8.76,-6.11 C-8.58,-6.11 -8.08,-5.39 -7.66,-5.32 C-7.25,-5.26 -4.31,-5.36 -3.75,-5.32 C-3.18,-5.28 -1.30,-4.96 -0.92,-4.85 C-0.55,-4.75 0.66,-4.20 0.80,-4.07 C0.94,-3.94 0.93,-3.39 0.80,-3.29 C0.67,-3.18 -0.39,-2.89 -0.77,-2.82 C-1.15,-2.74 -3.38,-2.41 -3.75,-2.34 C-4.11,-2.28 -5.03,-2.10 -5.16,-2.03 C-5.29,-1.97 -5.37,-1.64 -5.31,-1.56 C-5.26,-1.48 -4.82,-1.14 -4.53,-1.09 C-4.24,-1.04 -2.40,-0.92 -1.87,-0.93 C-1.33,-0.95 1.32,-1.25 1.90,-1.25 C2.47,-1.25 4.56,-1.05 5.03,-0.93 C5.50,-0.82 7.23,-0.06 7.54,0.16 C7.85,0.39 8.71,1.44 8.79,1.73 C8.87,2.02 8.48,3.38 8.48,3.61 C8.48,3.85 8.70,4.42 8.79,4.55 C8.88,4.68 9.60,5.09 9.58,5.18 C9.55,5.27 8.70,5.66 8.48,5.65 C8.26,5.64 7.36,5.05 6.91,5.02 C6.47,5.00 3.73,5.35 3.15,5.34 C2.58,5.32 0.43,4.94 0.02,4.87 C-0.40,4.79 -1.71,4.50 -1.87,4.39 C-2.02,4.29 -2.02,3.73 -1.87,3.61 C-1.71,3.49 -0.43,3.05 0.02,2.98 C0.46,2.92 3.07,2.87 3.46,2.83 C3.86,2.79 4.64,2.59 4.72,2.51 C4.80,2.44 4.64,1.97 4.40,1.89 C4.17,1.81 2.50,1.61 1.90,1.57 C1.30,1.53 -2.15,1.47 -2.81,1.42 C-3.46,1.36 -5.50,1.06 -5.94,0.95 C-6.38,0.83 -7.86,0.22 -8.13,0.01 C-8.41,-0.20 -9.15,-1.26 -9.23,-1.56 C-9.31,-1.86 -9.05,-3.35 -9.08,-3.60 C-9.10,-3.85 -9.48,-4.40 -9.55,-4.54 C-9.61,-4.68 -9.92,-5.19 -9.86,-5.32Z"/><use href="#bL" transform="matrix(0.8660,-0.5,0.8660,0.5,465.40,507.20)"/><use href="#bL" transform="matrix(0.8660,-0.5,0.8660,0.5,465.40,502.79)"/><use href="#bL" transform="matrix(0.8660,-0.5,0.8660,0.5,465.40,498.38)"/><use href="#bL" transform="matrix(0.8660,-0.5,0.8660,0.5,465.40,493.97)"/><use href="#bL" transform="matrix(0.8660,-0.5,0.8660,0.5,465.40,489.56)"/><use href="#bL" transform="matrix(0.8660,-0.5,0.8660,0.5,465.40,485.15)"/><use href="#bL" transform="matrix(0.8660,-0.5,0.8660,0.5,465.40,480.73)"/><use href="#bL" transform="matrix(0.8660,-0.5,0.8660,0.5,465.40,476.32)"/><use href="#bL" transform="matrix(0.8660,-0.5,0.8660,0.5,465.40,471.91)"/><use href="#bL" transform="matrix(0.8660,-0.5,0.8660,0.5,465.40,467.50)"/><use href="#bL" transform="matrix(0.8660,-0.5,0.8660,0.5,465.40,463.09)"/><use href="#bL" transform="matrix(0.8660,-0.5,0.8660,0.5,465.40,458.68)"/><use href="#bL" transform="matrix(0.8660,-0.5,0.8660,0.5,465.40,454.27)"/><use href="#bL" transform="matrix(0.8660,-0.5,0.8660,0.5,465.40,449.86)"/><use href="#bL" transform="matrix(0.8660,-0.5,0.8660,0.5,465.40,445.45)"/><use href="#bL" transform="matrix(0.8660,-0.5,0.8660,0.5,465.40,441.04)"/><use href="#bL" transform="matrix(0.8660,-0.5,0.8660,0.5,465.40,436.63)"/><use href="#bL" transform="matrix(0.8660,-0.5,0.8660,0.5,465.40,432.22)"/><use href="#bL" transform="matrix(0.8660,-0.5,0.8660,0.5,465.40,427.80)"/><use href="#bL" transform="matrix(0.8660,-0.5,0.8660,0.5,465.40,423.39)"/><use href="#bL" transform="matrix(0.8660,-0.5,0.8660,0.5,465.40,418.98)"/><use href="#bL" transform="matrix(0.8660,-0.5,0.8660,0.5,465.40,414.57)"/><use href="#bL" transform="matrix(0.8660,-0.5,0.8660,0.5,465.40,410.16)"/><use href="#bL" transform="matrix(0.8660,-0.5,0.8660,0.5,465.40,405.75)"/><use href="#bL" transform="matrix(0.8660,-0.5,0.8660,0.5,465.40,401.34)"/><use href="#bL" transform="matrix(0.8660,-0.5,0.8660,0.5,465.40,396.93)"/><use href="#bL" transform="matrix(0.8660,-0.5,0.8660,0.5,465.40,392.52)"/><use href="#bL" transform="matrix(0.8660,-0.5,0.8660,0.5,465.40,388.11)"/><use href="#bL" transform="matrix(0.8660,-0.5,0.8660,0.5,465.40,383.70)"/><use href="#bL" transform="matrix(0.8660,-0.5,0.8660,0.5,465.40,379.28)"/><use href="#bL" transform="matrix(0.8660,-0.5,0.8660,0.5,465.40,374.87)"/><use href="#bL" transform="matrix(0.8660,-0.5,0.8660,0.5,465.40,370.46)"/><use href="#bL" transform="matrix(0.8660,-0.5,0.8660,0.5,465.40,366.05)"/><use href="#bL" transform="matrix(0.8660,-0.5,0.8660,0.5,465.40,361.64)"/><use href="#bL" transform="matrix(0.8660,-0.5,0.8660,0.5,465.40,357.23)"/><use href="#bL" transform="matrix(0.8660,-0.5,0.8660,0.5,465.40,352.82)"/><use href="#bL" transform="matrix(0.8660,-0.5,0.8660,0.5,465.40,348.41)"/><use href="#bL" transform="matrix(0.8660,-0.5,0.8660,0.5,465.40,344.00)"/><use href="#bL" transform="matrix(0.8660,-0.5,0.8660,0.5,465.40,339.59)"/><use href="#bL" transform="matrix(0.8660,-0.5,0.8660,0.5,465.40,335.18)"/><use href="#bL" transform="matrix(0.8660,-0.5,0.8660,0.5,465.40,330.77)"/><use href="#bL" transform="matrix(0.8660,-0.5,0.8660,0.5,465.40,326.35)"/><use href="#bL" transform="matrix(0.8660,-0.5,0.8660,0.5,465.40,321.94)"/><use href="#bL" transform="matrix(0.8660,-0.5,0.8660,0.5,465.40,317.53)"/><use href="#bL" transform="matrix(0.8660,-0.5,0.8660,0.5,465.40,313.12)"/><use href="#bL" transform="matrix(0.8660,-0.5,0.8660,0.5,465.40,308.71)"/><use href="#bL" transform="matrix(0.8660,-0.5,0.8660,0.5,465.40,304.30)"/><g transform="matrix(0.8660,-0.5,0.8660,0.5,465.40,304.30)"><circle cx="35.7" cy="17.4" r="12.45" fill="#F2F9FD"/></g><path transform="translate(511.55,295.20)" fill="#1B9DD9" stroke="#1B9DD9" stroke-width="0.0" stroke-linejoin="round" d="M-9.86,-5.32 C-9.79,-5.45 -8.94,-6.11 -8.76,-6.11 C-8.58,-6.11 -8.08,-5.39 -7.66,-5.32 C-7.25,-5.26 -4.31,-5.36 -3.75,-5.32 C-3.18,-5.28 -1.30,-4.96 -0.92,-4.85 C-0.55,-4.75 0.66,-4.20 0.80,-4.07 C0.94,-3.94 0.93,-3.39 0.80,-3.29 C0.67,-3.18 -0.39,-2.89 -0.77,-2.82 C-1.15,-2.74 -3.38,-2.41 -3.75,-2.34 C-4.11,-2.28 -5.03,-2.10 -5.16,-2.03 C-5.29,-1.97 -5.37,-1.64 -5.31,-1.56 C-5.26,-1.48 -4.82,-1.14 -4.53,-1.09 C-4.24,-1.04 -2.40,-0.92 -1.87,-0.93 C-1.33,-0.95 1.32,-1.25 1.90,-1.25 C2.47,-1.25 4.56,-1.05 5.03,-0.93 C5.50,-0.82 7.23,-0.06 7.54,0.16 C7.85,0.39 8.71,1.44 8.79,1.73 C8.87,2.02 8.48,3.38 8.48,3.61 C8.48,3.85 8.70,4.42 8.79,4.55 C8.88,4.68 9.60,5.09 9.58,5.18 C9.55,5.27 8.70,5.66 8.48,5.65 C8.26,5.64 7.36,5.05 6.91,5.02 C6.47,5.00 3.73,5.35 3.15,5.34 C2.58,5.32 0.43,4.94 0.02,4.87 C-0.40,4.79 -1.71,4.50 -1.87,4.39 C-2.02,4.29 -2.02,3.73 -1.87,3.61 C-1.71,3.49 -0.43,3.05 0.02,2.98 C0.46,2.92 3.07,2.87 3.46,2.83 C3.86,2.79 4.64,2.59 4.72,2.51 C4.80,2.44 4.64,1.97 4.40,1.89 C4.17,1.81 2.50,1.61 1.90,1.57 C1.30,1.53 -2.15,1.47 -2.81,1.42 C-3.46,1.36 -5.50,1.06 -5.94,0.95 C-6.38,0.83 -7.86,0.22 -8.13,0.01 C-8.41,-0.20 -9.15,-1.26 -9.23,-1.56 C-9.31,-1.86 -9.05,-3.35 -9.08,-3.60 C-9.10,-3.85 -9.48,-4.40 -9.55,-4.54 C-9.61,-4.68 -9.92,-5.19 -9.86,-5.32Z"/><use href="#bD" transform="matrix(0.8660,-0.5,0.8660,0.5,499.20,527.20)"/><use href="#bD" transform="matrix(0.8660,-0.5,0.8660,0.5,499.20,522.89)"/><use href="#bD" transform="matrix(0.8660,-0.5,0.8660,0.5,499.20,518.59)"/><use href="#bD" transform="matrix(0.8660,-0.5,0.8660,0.5,499.20,514.28)"/><use href="#bD" transform="matrix(0.8660,-0.5,0.8660,0.5,499.20,509.97)"/><use href="#bD" transform="matrix(0.8660,-0.5,0.8660,0.5,499.20,505.66)"/><use href="#bD" transform="matrix(0.8660,-0.5,0.8660,0.5,499.20,501.36)"/><use href="#bD" transform="matrix(0.8660,-0.5,0.8660,0.5,499.20,497.05)"/><use href="#bD" transform="matrix(0.8660,-0.5,0.8660,0.5,499.20,492.74)"/><use href="#bD" transform="matrix(0.8660,-0.5,0.8660,0.5,499.20,488.44)"/><use href="#bD" transform="matrix(0.8660,-0.5,0.8660,0.5,499.20,484.13)"/><use href="#bD" transform="matrix(0.8660,-0.5,0.8660,0.5,499.20,479.82)"/><use href="#bD" transform="matrix(0.8660,-0.5,0.8660,0.5,499.20,475.51)"/><use href="#bD" transform="matrix(0.8660,-0.5,0.8660,0.5,499.20,471.21)"/><use href="#bD" transform="matrix(0.8660,-0.5,0.8660,0.5,499.20,466.90)"/><g transform="matrix(0.8660,-0.5,0.8660,0.5,499.20,466.90)"><circle cx="35.7" cy="17.4" r="12.45" fill="#F3F6FA"/></g><path transform="translate(545.35,457.80)" fill="#0B5EA6" stroke="#0B5EA6" stroke-width="0.0" stroke-linejoin="round" d="M-9.86,-5.32 C-9.79,-5.45 -8.94,-6.11 -8.76,-6.11 C-8.58,-6.11 -8.08,-5.39 -7.66,-5.32 C-7.25,-5.26 -4.31,-5.36 -3.75,-5.32 C-3.18,-5.28 -1.30,-4.96 -0.92,-4.85 C-0.55,-4.75 0.66,-4.20 0.80,-4.07 C0.94,-3.94 0.93,-3.39 0.80,-3.29 C0.67,-3.18 -0.39,-2.89 -0.77,-2.82 C-1.15,-2.74 -3.38,-2.41 -3.75,-2.34 C-4.11,-2.28 -5.03,-2.10 -5.16,-2.03 C-5.29,-1.97 -5.37,-1.64 -5.31,-1.56 C-5.26,-1.48 -4.82,-1.14 -4.53,-1.09 C-4.24,-1.04 -2.40,-0.92 -1.87,-0.93 C-1.33,-0.95 1.32,-1.25 1.90,-1.25 C2.47,-1.25 4.56,-1.05 5.03,-0.93 C5.50,-0.82 7.23,-0.06 7.54,0.16 C7.85,0.39 8.71,1.44 8.79,1.73 C8.87,2.02 8.48,3.38 8.48,3.61 C8.48,3.85 8.70,4.42 8.79,4.55 C8.88,4.68 9.60,5.09 9.58,5.18 C9.55,5.27 8.70,5.66 8.48,5.65 C8.26,5.64 7.36,5.05 6.91,5.02 C6.47,5.00 3.73,5.35 3.15,5.34 C2.58,5.32 0.43,4.94 0.02,4.87 C-0.40,4.79 -1.71,4.50 -1.87,4.39 C-2.02,4.29 -2.02,3.73 -1.87,3.61 C-1.71,3.49 -0.43,3.05 0.02,2.98 C0.46,2.92 3.07,2.87 3.46,2.83 C3.86,2.79 4.64,2.59 4.72,2.51 C4.80,2.44 4.64,1.97 4.40,1.89 C4.17,1.81 2.50,1.61 1.90,1.57 C1.30,1.53 -2.15,1.47 -2.81,1.42 C-3.46,1.36 -5.50,1.06 -5.94,0.95 C-6.38,0.83 -7.86,0.22 -8.13,0.01 C-8.41,-0.20 -9.15,-1.26 -9.23,-1.56 C-9.31,-1.86 -9.05,-3.35 -9.08,-3.60 C-9.10,-3.85 -9.48,-4.40 -9.55,-4.54 C-9.61,-4.68 -9.92,-5.19 -9.86,-5.32Z"/><use href="#bO" transform="matrix(0.8660,-0.5,0.8660,0.5,631.60,487.60)"/><use href="#bO" transform="matrix(0.8660,-0.5,0.8660,0.5,631.60,483.36)"/><use href="#bO" transform="matrix(0.8660,-0.5,0.8660,0.5,631.60,479.12)"/><use href="#bO" transform="matrix(0.8660,-0.5,0.8660,0.5,631.60,474.88)"/><use href="#bO" transform="matrix(0.8660,-0.5,0.8660,0.5,631.60,470.64)"/><use href="#bO" transform="matrix(0.8660,-0.5,0.8660,0.5,631.60,466.40)"/><use href="#bO" transform="matrix(0.8660,-0.5,0.8660,0.5,631.60,462.16)"/><use href="#bO" transform="matrix(0.8660,-0.5,0.8660,0.5,631.60,457.93)"/><use href="#bO" transform="matrix(0.8660,-0.5,0.8660,0.5,631.60,453.69)"/><use href="#bO" transform="matrix(0.8660,-0.5,0.8660,0.5,631.60,449.45)"/><use href="#bO" transform="matrix(0.8660,-0.5,0.8660,0.5,631.60,445.21)"/><use href="#bO" transform="matrix(0.8660,-0.5,0.8660,0.5,631.60,440.97)"/><use href="#bO" transform="matrix(0.8660,-0.5,0.8660,0.5,631.60,436.73)"/><use href="#bO" transform="matrix(0.8660,-0.5,0.8660,0.5,631.60,432.49)"/><use href="#bO" transform="matrix(0.8660,-0.5,0.8660,0.5,631.60,428.25)"/><use href="#bO" transform="matrix(0.8660,-0.5,0.8660,0.5,631.60,424.01)"/><use href="#bO" transform="matrix(0.8660,-0.5,0.8660,0.5,631.60,419.77)"/><use href="#bO" transform="matrix(0.8660,-0.5,0.8660,0.5,631.60,415.53)"/><use href="#bO" transform="matrix(0.8660,-0.5,0.8660,0.5,631.60,411.29)"/><use href="#bO" transform="matrix(0.8660,-0.5,0.8660,0.5,631.60,407.05)"/><use href="#bO" transform="matrix(0.8660,-0.5,0.8660,0.5,631.60,402.81)"/><use href="#bO" transform="matrix(0.8660,-0.5,0.8660,0.5,631.60,398.57)"/><use href="#bO" transform="matrix(0.8660,-0.5,0.8660,0.5,631.60,394.34)"/><use href="#bO" transform="matrix(0.8660,-0.5,0.8660,0.5,631.60,390.10)"/><use href="#bO" transform="matrix(0.8660,-0.5,0.8660,0.5,631.60,385.86)"/><use href="#bO" transform="matrix(0.8660,-0.5,0.8660,0.5,631.60,381.62)"/><use href="#bO" transform="matrix(0.8660,-0.5,0.8660,0.5,631.60,377.38)"/><use href="#bO" transform="matrix(0.8660,-0.5,0.8660,0.5,631.60,373.14)"/><use href="#bO" transform="matrix(0.8660,-0.5,0.8660,0.5,631.60,368.90)"/><g transform="matrix(0.8660,-0.5,0.8660,0.5,631.60,368.90)"><circle cx="35.7" cy="17.4" r="12.45" fill="#FFE9BE"/></g><path transform="translate(677.75,359.80)" fill="#F5881F" stroke="#F5881F" stroke-width="0.0" stroke-linejoin="round" d="M-9.86,-5.32 C-9.79,-5.45 -8.94,-6.11 -8.76,-6.11 C-8.58,-6.11 -8.08,-5.39 -7.66,-5.32 C-7.25,-5.26 -4.31,-5.36 -3.75,-5.32 C-3.18,-5.28 -1.30,-4.96 -0.92,-4.85 C-0.55,-4.75 0.66,-4.20 0.80,-4.07 C0.94,-3.94 0.93,-3.39 0.80,-3.29 C0.67,-3.18 -0.39,-2.89 -0.77,-2.82 C-1.15,-2.74 -3.38,-2.41 -3.75,-2.34 C-4.11,-2.28 -5.03,-2.10 -5.16,-2.03 C-5.29,-1.97 -5.37,-1.64 -5.31,-1.56 C-5.26,-1.48 -4.82,-1.14 -4.53,-1.09 C-4.24,-1.04 -2.40,-0.92 -1.87,-0.93 C-1.33,-0.95 1.32,-1.25 1.90,-1.25 C2.47,-1.25 4.56,-1.05 5.03,-0.93 C5.50,-0.82 7.23,-0.06 7.54,0.16 C7.85,0.39 8.71,1.44 8.79,1.73 C8.87,2.02 8.48,3.38 8.48,3.61 C8.48,3.85 8.70,4.42 8.79,4.55 C8.88,4.68 9.60,5.09 9.58,5.18 C9.55,5.27 8.70,5.66 8.48,5.65 C8.26,5.64 7.36,5.05 6.91,5.02 C6.47,5.00 3.73,5.35 3.15,5.34 C2.58,5.32 0.43,4.94 0.02,4.87 C-0.40,4.79 -1.71,4.50 -1.87,4.39 C-2.02,4.29 -2.02,3.73 -1.87,3.61 C-1.71,3.49 -0.43,3.05 0.02,2.98 C0.46,2.92 3.07,2.87 3.46,2.83 C3.86,2.79 4.64,2.59 4.72,2.51 C4.80,2.44 4.64,1.97 4.40,1.89 C4.17,1.81 2.50,1.61 1.90,1.57 C1.30,1.53 -2.15,1.47 -2.81,1.42 C-3.46,1.36 -5.50,1.06 -5.94,0.95 C-6.38,0.83 -7.86,0.22 -8.13,0.01 C-8.41,-0.20 -9.15,-1.26 -9.23,-1.56 C-9.31,-1.86 -9.05,-3.35 -9.08,-3.60 C-9.10,-3.85 -9.48,-4.40 -9.55,-4.54 C-9.61,-4.68 -9.92,-5.19 -9.86,-5.32Z"/><use href="#bL" transform="matrix(0.8660,-0.5,0.8660,0.5,666.20,507.80)"/><use href="#bL" transform="matrix(0.8660,-0.5,0.8660,0.5,666.20,503.26)"/><use href="#bL" transform="matrix(0.8660,-0.5,0.8660,0.5,666.20,498.71)"/><use href="#bL" transform="matrix(0.8660,-0.5,0.8660,0.5,666.20,494.17)"/><use href="#bL" transform="matrix(0.8660,-0.5,0.8660,0.5,666.20,489.63)"/><use href="#bL" transform="matrix(0.8660,-0.5,0.8660,0.5,666.20,485.09)"/><use href="#bL" transform="matrix(0.8660,-0.5,0.8660,0.5,666.20,480.54)"/><use href="#bL" transform="matrix(0.8660,-0.5,0.8660,0.5,666.20,476.00)"/><use href="#bL" transform="matrix(0.8660,-0.5,0.8660,0.5,666.20,471.46)"/><use href="#bL" transform="matrix(0.8660,-0.5,0.8660,0.5,666.20,466.91)"/><use href="#bL" transform="matrix(0.8660,-0.5,0.8660,0.5,666.20,462.37)"/><use href="#bL" transform="matrix(0.8660,-0.5,0.8660,0.5,666.20,457.83)"/><use href="#bL" transform="matrix(0.8660,-0.5,0.8660,0.5,666.20,453.29)"/><use href="#bL" transform="matrix(0.8660,-0.5,0.8660,0.5,666.20,448.74)"/><use href="#bL" transform="matrix(0.8660,-0.5,0.8660,0.5,666.20,444.20)"/><use href="#bL" transform="matrix(0.8660,-0.5,0.8660,0.5,666.20,439.66)"/><use href="#bL" transform="matrix(0.8660,-0.5,0.8660,0.5,666.20,435.11)"/><use href="#bL" transform="matrix(0.8660,-0.5,0.8660,0.5,666.20,430.57)"/><use href="#bL" transform="matrix(0.8660,-0.5,0.8660,0.5,666.20,426.03)"/><use href="#bL" transform="matrix(0.8660,-0.5,0.8660,0.5,666.20,421.49)"/><use href="#bL" transform="matrix(0.8660,-0.5,0.8660,0.5,666.20,416.94)"/><use href="#bL" transform="matrix(0.8660,-0.5,0.8660,0.5,666.20,412.40)"/><use href="#bL" transform="matrix(0.8660,-0.5,0.8660,0.5,666.20,407.86)"/><use href="#bL" transform="matrix(0.8660,-0.5,0.8660,0.5,666.20,403.31)"/><use href="#bL" transform="matrix(0.8660,-0.5,0.8660,0.5,666.20,398.77)"/><use href="#bL" transform="matrix(0.8660,-0.5,0.8660,0.5,666.20,394.23)"/><use href="#bL" transform="matrix(0.8660,-0.5,0.8660,0.5,666.20,389.69)"/><use href="#bL" transform="matrix(0.8660,-0.5,0.8660,0.5,666.20,385.14)"/><use href="#bL" transform="matrix(0.8660,-0.5,0.8660,0.5,666.20,380.60)"/><use href="#bL" transform="matrix(0.8660,-0.5,0.8660,0.5,666.20,376.06)"/><use href="#bL" transform="matrix(0.8660,-0.5,0.8660,0.5,666.20,371.51)"/><use href="#bL" transform="matrix(0.8660,-0.5,0.8660,0.5,666.20,366.97)"/><use href="#bL" transform="matrix(0.8660,-0.5,0.8660,0.5,666.20,362.43)"/><use href="#bL" transform="matrix(0.8660,-0.5,0.8660,0.5,666.20,357.89)"/><use href="#bL" transform="matrix(0.8660,-0.5,0.8660,0.5,666.20,353.34)"/><use href="#bL" transform="matrix(0.8660,-0.5,0.8660,0.5,666.20,348.80)"/><use href="#bL" transform="matrix(0.8660,-0.5,0.8660,0.5,666.20,344.26)"/><use href="#bL" transform="matrix(0.8660,-0.5,0.8660,0.5,666.20,339.71)"/><use href="#bL" transform="matrix(0.8660,-0.5,0.8660,0.5,666.20,335.17)"/><use href="#bL" transform="matrix(0.8660,-0.5,0.8660,0.5,666.20,330.63)"/><use href="#bL" transform="matrix(0.8660,-0.5,0.8660,0.5,666.20,326.09)"/><use href="#bL" transform="matrix(0.8660,-0.5,0.8660,0.5,666.20,321.54)"/><use href="#bL" transform="matrix(0.8660,-0.5,0.8660,0.5,666.20,317.00)"/><g transform="matrix(0.8660,-0.5,0.8660,0.5,666.20,317.00)"><circle cx="35.7" cy="17.4" r="12.45" fill="#F2F9FD"/></g><path transform="translate(712.35,307.90)" fill="#1B9DD9" stroke="#1B9DD9" stroke-width="0.0" stroke-linejoin="round" d="M-9.86,-5.32 C-9.79,-5.45 -8.94,-6.11 -8.76,-6.11 C-8.58,-6.11 -8.08,-5.39 -7.66,-5.32 C-7.25,-5.26 -4.31,-5.36 -3.75,-5.32 C-3.18,-5.28 -1.30,-4.96 -0.92,-4.85 C-0.55,-4.75 0.66,-4.20 0.80,-4.07 C0.94,-3.94 0.93,-3.39 0.80,-3.29 C0.67,-3.18 -0.39,-2.89 -0.77,-2.82 C-1.15,-2.74 -3.38,-2.41 -3.75,-2.34 C-4.11,-2.28 -5.03,-2.10 -5.16,-2.03 C-5.29,-1.97 -5.37,-1.64 -5.31,-1.56 C-5.26,-1.48 -4.82,-1.14 -4.53,-1.09 C-4.24,-1.04 -2.40,-0.92 -1.87,-0.93 C-1.33,-0.95 1.32,-1.25 1.90,-1.25 C2.47,-1.25 4.56,-1.05 5.03,-0.93 C5.50,-0.82 7.23,-0.06 7.54,0.16 C7.85,0.39 8.71,1.44 8.79,1.73 C8.87,2.02 8.48,3.38 8.48,3.61 C8.48,3.85 8.70,4.42 8.79,4.55 C8.88,4.68 9.60,5.09 9.58,5.18 C9.55,5.27 8.70,5.66 8.48,5.65 C8.26,5.64 7.36,5.05 6.91,5.02 C6.47,5.00 3.73,5.35 3.15,5.34 C2.58,5.32 0.43,4.94 0.02,4.87 C-0.40,4.79 -1.71,4.50 -1.87,4.39 C-2.02,4.29 -2.02,3.73 -1.87,3.61 C-1.71,3.49 -0.43,3.05 0.02,2.98 C0.46,2.92 3.07,2.87 3.46,2.83 C3.86,2.79 4.64,2.59 4.72,2.51 C4.80,2.44 4.64,1.97 4.40,1.89 C4.17,1.81 2.50,1.61 1.90,1.57 C1.30,1.53 -2.15,1.47 -2.81,1.42 C-3.46,1.36 -5.50,1.06 -5.94,0.95 C-6.38,0.83 -7.86,0.22 -8.13,0.01 C-8.41,-0.20 -9.15,-1.26 -9.23,-1.56 C-9.31,-1.86 -9.05,-3.35 -9.08,-3.60 C-9.10,-3.85 -9.48,-4.40 -9.55,-4.54 C-9.61,-4.68 -9.92,-5.19 -9.86,-5.32Z"/><use href="#bD" transform="matrix(0.8660,-0.5,0.8660,0.5,699.95,527.20)"/><use href="#bD" transform="matrix(0.8660,-0.5,0.8660,0.5,699.95,522.90)"/><use href="#bD" transform="matrix(0.8660,-0.5,0.8660,0.5,699.95,518.60)"/><use href="#bD" transform="matrix(0.8660,-0.5,0.8660,0.5,699.95,514.30)"/><use href="#bD" transform="matrix(0.8660,-0.5,0.8660,0.5,699.95,510.00)"/><use href="#bD" transform="matrix(0.8660,-0.5,0.8660,0.5,699.95,505.70)"/><use href="#bD" transform="matrix(0.8660,-0.5,0.8660,0.5,699.95,501.40)"/><use href="#bD" transform="matrix(0.8660,-0.5,0.8660,0.5,699.95,497.10)"/><use href="#bD" transform="matrix(0.8660,-0.5,0.8660,0.5,699.95,492.80)"/><use href="#bD" transform="matrix(0.8660,-0.5,0.8660,0.5,699.95,488.50)"/><use href="#bD" transform="matrix(0.8660,-0.5,0.8660,0.5,699.95,484.20)"/><use href="#bD" transform="matrix(0.8660,-0.5,0.8660,0.5,699.95,479.90)"/><use href="#bD" transform="matrix(0.8660,-0.5,0.8660,0.5,699.95,475.60)"/><use href="#bD" transform="matrix(0.8660,-0.5,0.8660,0.5,699.95,471.30)"/><use href="#bD" transform="matrix(0.8660,-0.5,0.8660,0.5,699.95,467.00)"/><use href="#bD" transform="matrix(0.8660,-0.5,0.8660,0.5,699.95,462.70)"/><use href="#bD" transform="matrix(0.8660,-0.5,0.8660,0.5,699.95,458.40)"/><use href="#bD" transform="matrix(0.8660,-0.5,0.8660,0.5,699.95,454.10)"/><use href="#bD" transform="matrix(0.8660,-0.5,0.8660,0.5,699.95,449.80)"/><use href="#bD" transform="matrix(0.8660,-0.5,0.8660,0.5,699.95,445.50)"/><use href="#bD" transform="matrix(0.8660,-0.5,0.8660,0.5,699.95,441.20)"/><use href="#bD" transform="matrix(0.8660,-0.5,0.8660,0.5,699.95,436.90)"/><use href="#bD" transform="matrix(0.8660,-0.5,0.8660,0.5,699.95,432.60)"/><use href="#bD" transform="matrix(0.8660,-0.5,0.8660,0.5,699.95,428.30)"/><use href="#bD" transform="matrix(0.8660,-0.5,0.8660,0.5,699.95,424.00)"/><g transform="matrix(0.8660,-0.5,0.8660,0.5,699.95,424.00)"><circle cx="35.7" cy="17.4" r="12.45" fill="#F3F6FA"/></g><path transform="translate(746.10,414.90)" fill="#0B5EA6" stroke="#0B5EA6" stroke-width="0.0" stroke-linejoin="round" d="M-9.86,-5.32 C-9.79,-5.45 -8.94,-6.11 -8.76,-6.11 C-8.58,-6.11 -8.08,-5.39 -7.66,-5.32 C-7.25,-5.26 -4.31,-5.36 -3.75,-5.32 C-3.18,-5.28 -1.30,-4.96 -0.92,-4.85 C-0.55,-4.75 0.66,-4.20 0.80,-4.07 C0.94,-3.94 0.93,-3.39 0.80,-3.29 C0.67,-3.18 -0.39,-2.89 -0.77,-2.82 C-1.15,-2.74 -3.38,-2.41 -3.75,-2.34 C-4.11,-2.28 -5.03,-2.10 -5.16,-2.03 C-5.29,-1.97 -5.37,-1.64 -5.31,-1.56 C-5.26,-1.48 -4.82,-1.14 -4.53,-1.09 C-4.24,-1.04 -2.40,-0.92 -1.87,-0.93 C-1.33,-0.95 1.32,-1.25 1.90,-1.25 C2.47,-1.25 4.56,-1.05 5.03,-0.93 C5.50,-0.82 7.23,-0.06 7.54,0.16 C7.85,0.39 8.71,1.44 8.79,1.73 C8.87,2.02 8.48,3.38 8.48,3.61 C8.48,3.85 8.70,4.42 8.79,4.55 C8.88,4.68 9.60,5.09 9.58,5.18 C9.55,5.27 8.70,5.66 8.48,5.65 C8.26,5.64 7.36,5.05 6.91,5.02 C6.47,5.00 3.73,5.35 3.15,5.34 C2.58,5.32 0.43,4.94 0.02,4.87 C-0.40,4.79 -1.71,4.50 -1.87,4.39 C-2.02,4.29 -2.02,3.73 -1.87,3.61 C-1.71,3.49 -0.43,3.05 0.02,2.98 C0.46,2.92 3.07,2.87 3.46,2.83 C3.86,2.79 4.64,2.59 4.72,2.51 C4.80,2.44 4.64,1.97 4.40,1.89 C4.17,1.81 2.50,1.61 1.90,1.57 C1.30,1.53 -2.15,1.47 -2.81,1.42 C-3.46,1.36 -5.50,1.06 -5.94,0.95 C-6.38,0.83 -7.86,0.22 -8.13,0.01 C-8.41,-0.20 -9.15,-1.26 -9.23,-1.56 C-9.31,-1.86 -9.05,-3.35 -9.08,-3.60 C-9.10,-3.85 -9.48,-4.40 -9.55,-4.54 C-9.61,-4.68 -9.92,-5.19 -9.86,-5.32Z"/><g transform="translate(33.35,188.90) scale(0.92,1)"><text x="0" y="0" font-family="Liberation Sans" font-weight="bold" font-size="23.31" fill="#F68B1F" stroke="#F68B1F" stroke-width="0.5" textLength="47.47" lengthAdjust="spacing">60%</text></g><g transform="translate(127.25,260.80) scale(0.92,1)"><text x="0" y="0" font-family="Liberation Sans" font-weight="bold" font-size="23.16" fill="#1E9BD7" stroke="#1E9BD7" stroke-width="0.5" textLength="48.55" lengthAdjust="spacing">28%</text></g><path d="M163.70,364.50 L167.90,364.50 L167.90,380.80 L164.60,380.80 L164.60,369.70 L161.80,370.80 L161.80,367.20Z" fill="#0D62AC"/><path d="M174.90,364.50 L179.10,364.50 L179.10,380.80 L175.80,380.80 L175.80,369.70 L173.00,370.80 L173.00,367.20Z" fill="#0D62AC"/><g transform="translate(183.85,380.60) scale(0.92,1)"><text x="0" y="0" font-family="Liberation Sans" font-weight="bold" font-size="22.46" fill="#0D62AC" stroke="#0D62AC" stroke-width="0.5" textLength="19.71" lengthAdjust="spacing">%</text></g><g transform="translate(242.95,188.90) scale(0.92,1)"><text x="0" y="0" font-family="Liberation Sans" font-weight="bold" font-size="23.31" fill="#F68B1F" stroke="#F68B1F" stroke-width="0.5" textLength="48.77" lengthAdjust="spacing">45%</text></g><g transform="translate(324.75,261.00) scale(0.92,1)"><text x="0" y="0" font-family="Liberation Sans" font-weight="bold" font-size="23.45" fill="#1E9BD7" stroke="#1E9BD7" stroke-width="0.5" textLength="48.02" lengthAdjust="spacing">40%</text></g><path d="M368.90,364.50 L373.10,364.50 L373.10,380.80 L369.80,380.80 L369.80,369.70 L367.00,370.80 L367.00,367.20Z" fill="#0D62AC"/><g transform="translate(375.85,380.60) scale(0.92,1)"><text x="0" y="0" font-family="Liberation Sans" font-weight="bold" font-size="22.46" fill="#0D62AC" stroke="#0D62AC" stroke-width="0.5" textLength="33.73" lengthAdjust="spacing">6%</text></g><g transform="translate(438.25,188.80) scale(0.92,1)"><text x="0" y="0" font-family="Liberation Sans" font-weight="bold" font-size="22.03" fill="#F68B1F" stroke="#F68B1F" stroke-width="0.5" textLength="47.84" lengthAdjust="spacing">39%</text></g><g transform="translate(528.05,260.80) scale(0.92,1)"><text x="0" y="0" font-family="Liberation Sans" font-weight="bold" font-size="22.03" fill="#1E9BD7" stroke="#1E9BD7" stroke-width="0.5" textLength="47.84" lengthAdjust="spacing">47%</text></g><path d="M563.10,364.80 L567.30,364.80 L567.30,380.80 L564.00,380.80 L564.00,370.00 L561.20,371.10 L561.20,367.50Z" fill="#0D62AC"/><g transform="translate(570.65,380.60) scale(0.92,1)"><text x="0" y="0" font-family="Liberation Sans" font-weight="bold" font-size="22.03" fill="#0D62AC" stroke="#0D62AC" stroke-width="0.5" textLength="32.73" lengthAdjust="spacing">5%</text></g><g transform="translate(636.15,188.80) scale(0.92,1)"><text x="0" y="0" font-family="Liberation Sans" font-weight="bold" font-size="22.03" fill="#F68B1F" stroke="#F68B1F" stroke-width="0.5" textLength="47.84" lengthAdjust="spacing">29%</text></g><g transform="translate(725.95,260.80) scale(0.92,1)"><text x="0" y="0" font-family="Liberation Sans" font-weight="bold" font-size="22.03" fill="#1E9BD7" stroke="#1E9BD7" stroke-width="0.5" textLength="48.49" lengthAdjust="spacing">45%</text></g><g transform="translate(761.65,380.30) scale(0.92,1)"><text x="0" y="0" font-family="Liberation Sans" font-weight="bold" font-size="22.03" fill="#0D62AC" stroke="#0D62AC" stroke-width="0.5" textLength="48.06" lengthAdjust="spacing">25%</text></g><line x1="54.7" y1="192.2" x2="54.7" y2="209.3" stroke="#FBA650" stroke-width="1.2"/><line x1="146.7" y1="265.2" x2="146.7" y2="360.5" stroke="#8CCBEC" stroke-width="1.2"/><line x1="178.5" y1="382.0" x2="178.5" y2="454.9" stroke="#3E83C4" stroke-width="1.2"/><line x1="265.0" y1="192.2" x2="265.0" y2="270.8" stroke="#FBA650" stroke-width="1.2"/><line x1="346.6" y1="265.1" x2="346.6" y2="306.4" stroke="#8CCBEC" stroke-width="1.2"/><line x1="384.3" y1="382.2" x2="384.3" y2="431.8" stroke="#3E83C4" stroke-width="1.2"/><line x1="459.9" y1="192.3" x2="459.9" y2="299.3" stroke="#FBA650" stroke-width="1.2"/><line x1="548.7" y1="265.4" x2="548.7" y2="275.3" stroke="#8CCBEC" stroke-width="1.2"/><line x1="579.1" y1="383.2" x2="579.1" y2="435.6" stroke="#3E83C4" stroke-width="1.2"/><line x1="657.7" y1="192.3" x2="657.7" y2="347.9" stroke="#FBA650" stroke-width="1.2"/><line x1="748.1" y1="265.4" x2="748.1" y2="287.2" stroke="#8CCBEC" stroke-width="1.2"/><line x1="780.0" y1="383.0" x2="780.0" y2="393.3" stroke="#3E83C4" stroke-width="1.2"/><text x="55.9" y="540.7" text-anchor="middle" font-family="Liberation Sans" font-weight="normal" font-size="18.6" fill="#6D6E71" stroke="#6D6E71" stroke-width="0.45" textLength="41" lengthAdjust="spacingAndGlyphs">2019</text><text x="55.9" y="558.9" text-anchor="middle" font-family="Liberation Sans" font-size="15" fill="#6D6E71" textLength="50.5" lengthAdjust="spacingAndGlyphs">(n=420)</text><text x="266.7" y="540.7" text-anchor="middle" font-family="Liberation Sans" font-weight="normal" font-size="18.6" fill="#6D6E71" stroke="#6D6E71" stroke-width="0.45" textLength="41" lengthAdjust="spacingAndGlyphs">2020</text><text x="266.7" y="558.9" text-anchor="middle" font-family="Liberation Sans" font-size="15" fill="#6D6E71" textLength="50.5" lengthAdjust="spacingAndGlyphs">(n=146)</text><text x="466.7" y="540.7" text-anchor="middle" font-family="Liberation Sans" font-weight="normal" font-size="18.6" fill="#6D6E71" stroke="#6D6E71" stroke-width="0.45" textLength="41" lengthAdjust="spacingAndGlyphs">2021</text><text x="466.7" y="558.9" text-anchor="middle" font-family="Liberation Sans" font-size="15" fill="#6D6E71" textLength="50.5" lengthAdjust="spacingAndGlyphs">(n=172)</text><text x="671.5" y="540.7" text-anchor="middle" font-family="Liberation Sans" font-weight="normal" font-size="18.6" fill="#6D6E71" stroke="#6D6E71" stroke-width="0.45" textLength="41" lengthAdjust="spacingAndGlyphs">2022</text><text x="671.5" y="558.9" text-anchor="middle" font-family="Liberation Sans" font-size="15" fill="#6D6E71" textLength="50.5" lengthAdjust="spacingAndGlyphs">(n=779)</text><text x="17.5" y="595.8" font-family="Liberation Sans" font-weight="normal" font-style="italic" font-size="14.8" fill="#707174" textLength="118.1" lengthAdjust="spacingAndGlyphs" >(All figures rounded)</text><text x="16.3" y="647.3" font-family="Liberation Sans" font-weight="normal" font-style="normal" font-size="12.4" fill="#58595B" textLength="493.5" lengthAdjust="spacingAndGlyphs" xml:space="preserve">UPTIME INSTITUTE GLOBAL SURVEY OF  IT AND DATA CENTER MANAGERS 2019-2022</text><rect x="16" y="659" width="793.6" height="1" fill="#55565B"/><text x="722.4" y="643.5" font-family="Liberation Sans" font-weight="bold" font-style="normal" font-size="20" fill="#0B5290" textLength="69.2" lengthAdjust="spacingAndGlyphs" stroke="#0B5290" stroke-width="0.4">uptıme</text><text x="747.8" y="653.7" font-family="Liberation Sans" font-weight="bold" font-style="normal" font-size="8.3" fill="#6AA6CF" textLength="61.8" lengthAdjust="spacingAndGlyphs" stroke="#6AA6CF" stroke-width="0.35">INTELLIGENCE</text></svg>
</body></html>
